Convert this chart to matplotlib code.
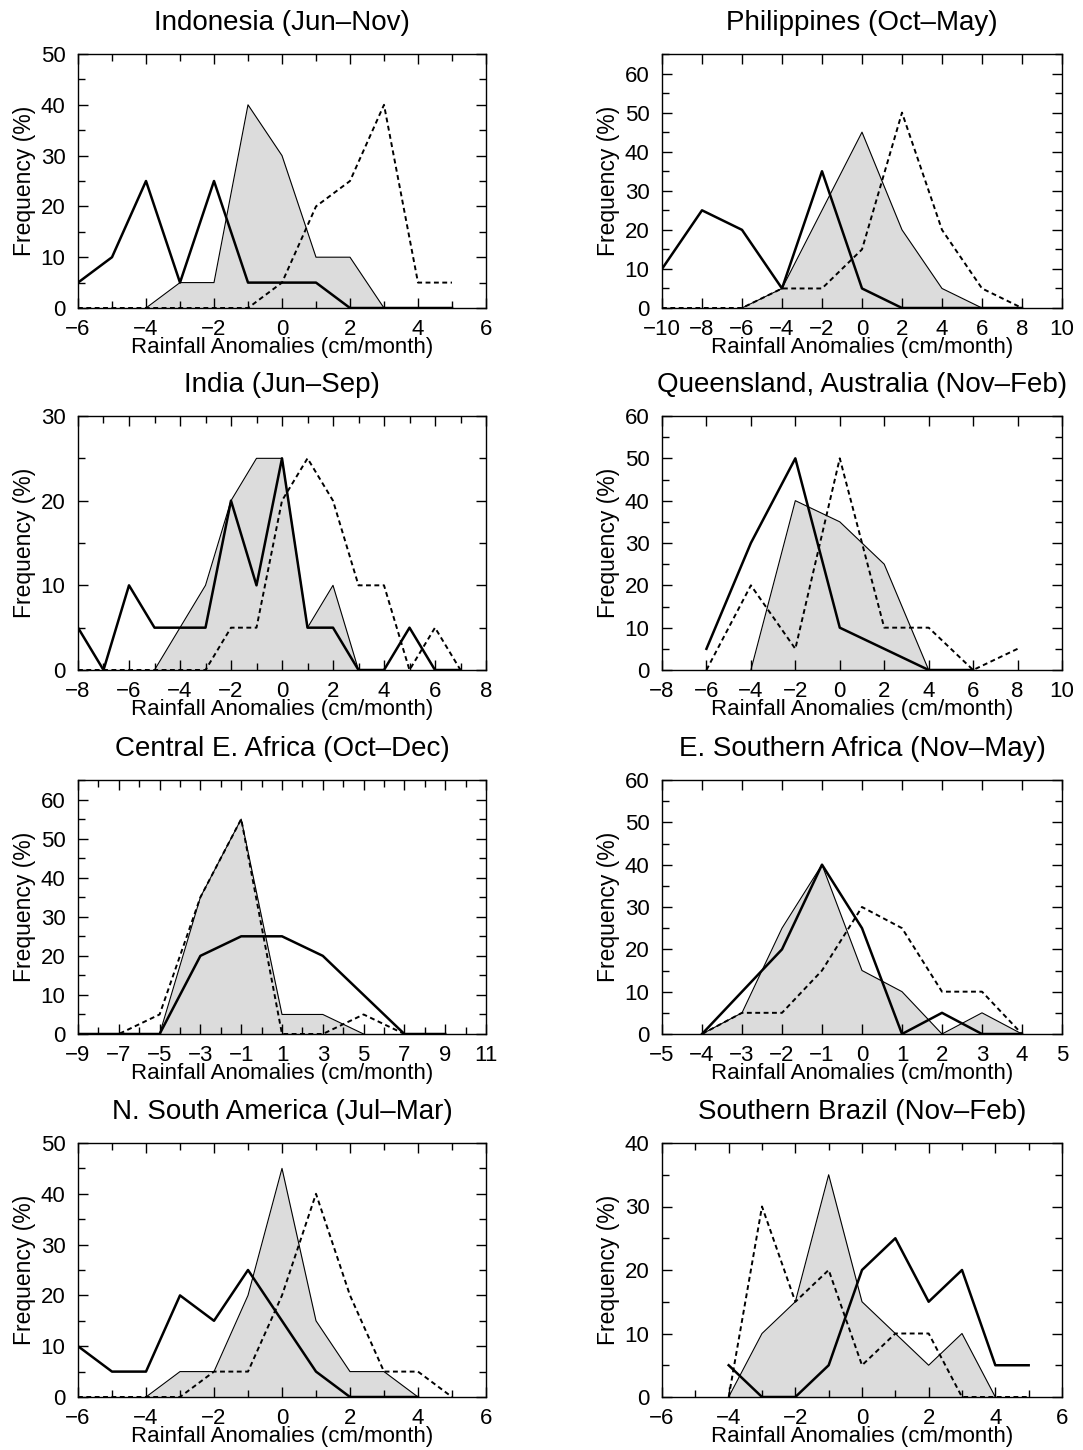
import matplotlib
matplotlib.use("Agg")
import matplotlib.pyplot as plt
from matplotlib.ticker import MultipleLocator

plt.rcParams['font.family'] = ['Liberation Sans', 'DejaVu Sans']

# ---- data (frequency %) ----
# Indonesia (Jun-Nov)
indo_x_solid = [-6, -5, -4, -3, -2, -1, 0, 1, 2, 3, 4, 5]
indo_solid = [5, 10, 25, 5, 25, 5, 5, 5, 0, 0, 0, 0]
indo_x_shade = [-4, -3, -2, -1, 0, 1, 2, 3]
indo_shade = [0, 5, 5, 40, 30, 10, 10, 0]
indo_x_dash = [-6, -5, -4, -3, -2, -1, 0, 1, 2, 3, 4, 5]
indo_dash = [0, 0, 0, 0, 0, 0, 5, 20, 25, 40, 5, 5]

# Philippines (Oct-May)
phil_x_solid = [-10, -8, -6, -4, -2, 0, 2, 4, 6, 8]
phil_solid = [10, 25, 20, 5, 35, 5, 0, 0, 0, 0]
phil_x_shade = [-6, -4, -2, 0, 2, 4, 6]
phil_shade = [0, 5, 25, 45, 20, 5, 0]
phil_x_dash = [-10, -8, -6, -4, -2, 0, 2, 4, 6, 8]
phil_dash = [0, 0, 0, 5, 5, 15, 50, 20, 5, 0]

# India (Jun-Sep)
india_x_solid = [-8, -7, -6, -5, -4, -3, -2, -1, 0, 1, 2, 3, 4, 5, 6, 7]
india_solid = [5, 0, 10, 5, 5, 5, 20, 10, 25, 5, 5, 0, 0, 5, 0, 0]
india_x_shade = [-5, -4, -3, -2, -1, 0, 1, 2, 3]
india_shade = [0, 5, 10, 20, 25, 25, 5, 10, 0]
india_x_dash = [-8, -7, -6, -5, -4, -3, -2, -1, 0, 1, 2, 3, 4, 5, 6, 7]
india_dash = [0, 0, 0, 0, 0, 0, 5, 5, 20, 25, 20, 10, 10, 0, 5, 0]

# Queensland, Australia (Nov-Feb)
qld_x_solid = [-6, -4, -2, 0, 2, 4, 6]
qld_solid = [5, 30, 50, 10, 5, 0, 0]
qld_x_shade = [-4, -2, 0, 2, 4]
qld_shade = [0, 40, 35, 25, 0]
qld_x_dash = [-6, -4, -2, 0, 2, 4, 6, 8]
qld_dash = [0, 20, 5, 50, 10, 10, 0, 5]

# Central E. Africa (Oct-Dec)
cea_x_solid = [-9, -7, -5, -3, -1, 1, 3, 5, 7, 9]
cea_solid = [0, 0, 0, 20, 25, 25, 20, 10, 0, 0]
cea_x_shade = [-5, -3, -1, 1, 3, 5]
cea_shade = [0, 35, 55, 5, 5, 0]
cea_x_dash = [-9, -7, -5, -3, -1, 1, 3, 5, 7]
cea_dash = [0, 0, 5, 35, 55, 0, 0, 5, 0]

# E. Southern Africa (Nov-May)
esa_x_solid = [-4, -3, -2, -1, 0, 1, 2, 3, 4]
esa_solid = [0, 10, 20, 40, 25, 0, 5, 0, 0]
esa_x_shade = [-4, -3, -2, -1, 0, 1, 2, 3, 4]
esa_shade = [0, 5, 25, 40, 15, 10, 0, 5, 0]
esa_x_dash = [-4, -3, -2, -1, 0, 1, 2, 3, 4]
esa_dash = [0, 5, 5, 15, 30, 25, 10, 10, 0]

# N. South America (Jul-Mar)
nsa_x_solid = [-6, -5, -4, -3, -2, -1, 0, 1, 2, 3, 4]
nsa_solid = [10, 5, 5, 20, 15, 25, 15, 5, 0, 0, 0]
nsa_x_shade = [-4, -3, -2, -1, 0, 1, 2, 3, 4]
nsa_shade = [0, 5, 5, 20, 45, 15, 5, 5, 0]
nsa_x_dash = [-6, -5, -4, -3, -2, -1, 0, 1, 2, 3, 4, 5]
nsa_dash = [0, 0, 0, 0, 5, 5, 20, 40, 20, 5, 5, 0]

# Southern Brazil (Nov-Feb)
sbr_x_solid = [-4, -3, -2, -1, 0, 1, 2, 3, 4, 5]
sbr_solid = [5, 0, 0, 5, 20, 25, 15, 20, 5, 5]
sbr_x_shade = [-4, -3, -2, -1, 0, 1, 2, 3, 4]
sbr_shade = [0, 10, 15, 35, 15, 10, 5, 10, 0]
sbr_x_dash = [-4, -3, -2, -1, 0, 1, 2, 3, 4, 5]
sbr_dash = [0, 30, 15, 20, 5, 10, 10, 0, 0, 0]

panels = [
    ("Indonesia (Jun–Nov)", indo_x_solid, indo_solid, indo_x_shade, indo_shade, indo_x_dash, indo_dash,
     (-6, 6), (0, 50), 2, 1),
    ("Philippines (Oct–May)", phil_x_solid, phil_solid, phil_x_shade, phil_shade, phil_x_dash, phil_dash,
     (-10, 10), (0, 65), 2, 2),
    ("India (Jun–Sep)", india_x_solid, india_solid, india_x_shade, india_shade, india_x_dash, india_dash,
     (-8, 8), (0, 30), 2, 1),
    ("Queensland, Australia (Nov–Feb)", qld_x_solid, qld_solid, qld_x_shade, qld_shade, qld_x_dash, qld_dash,
     (-8, 10), (0, 60), 2, 2),
    ("Central E. Africa (Oct–Dec)", cea_x_solid, cea_solid, cea_x_shade, cea_shade, cea_x_dash, cea_dash,
     (-9, 11), (0, 65), 2, 1),
    ("E. Southern Africa (Nov–May)", esa_x_solid, esa_solid, esa_x_shade, esa_shade, esa_x_dash, esa_dash,
     (-5, 5), (0, 60), 1, 1),
    ("N. South America (Jul–Mar)", nsa_x_solid, nsa_solid, nsa_x_shade, nsa_shade, nsa_x_dash, nsa_dash,
     (-6, 6), (0, 50), 2, 1),
    ("Southern Brazil (Nov–Feb)", sbr_x_solid, sbr_solid, sbr_x_shade, sbr_shade, sbr_x_dash, sbr_dash,
     (-6, 6), (0, 40), 2, 1),
]

fig = plt.figure(figsize=(10.83, 14.5), dpi=100)

W, H = 1083.0, 1450.0
col_left = [78, 662]
col_w = [408, 400]
row_top = [54, 416, 780, 1143]
ax_h = 254

for i, p in enumerate(panels):
    title, xs, ys, xf, yf, xd, yd, xlim, ylim, xmaj, xmin = p
    r, c = i // 2, i % 2
    ax = fig.add_axes([col_left[c] / W, 1 - (row_top[r] + ax_h) / H, col_w[c] / W, ax_h / H])

    ax.fill_between(xf, yf, 0, color='#dcdcdc', lw=0)
    ax.plot(xf, yf, color='black', lw=0.8)
    ax.plot(xd, yd, color='black', lw=1.4, ls=(0, (2.5, 1.8)))
    ax.plot(xs, ys, color='black', lw=1.8)

    ax.set_xlim(*xlim)
    ax.set_ylim(*ylim)
    ax.set_xticks(list(range(xlim[0], xlim[1] + 1, xmaj)))
    ax.xaxis.set_minor_locator(MultipleLocator(xmin))
    ax.yaxis.set_major_locator(MultipleLocator(10))
    ax.yaxis.set_minor_locator(MultipleLocator(5))
    ax.tick_params(which='both', direction='in', top=True, right=True, labelsize=16, width=1.0)
    ax.tick_params(which='major', length=7)
    ax.tick_params(axis='x', which='major', pad=8)
    ax.tick_params(axis='y', which='major', pad=9)
    ax.tick_params(which='minor', length=5)
    for s in ax.spines.values():
        s.set_linewidth(1.0)

    ax.set_title(title, fontsize=20, pad=17)
    ax.set_xlabel("Rainfall Anomalies (cm/month)", fontsize=16, labelpad=-2)
    ax.set_ylabel("Frequency (%)", fontsize=16.5, labelpad=3)

fig.savefig("out.png", dpi=100)
